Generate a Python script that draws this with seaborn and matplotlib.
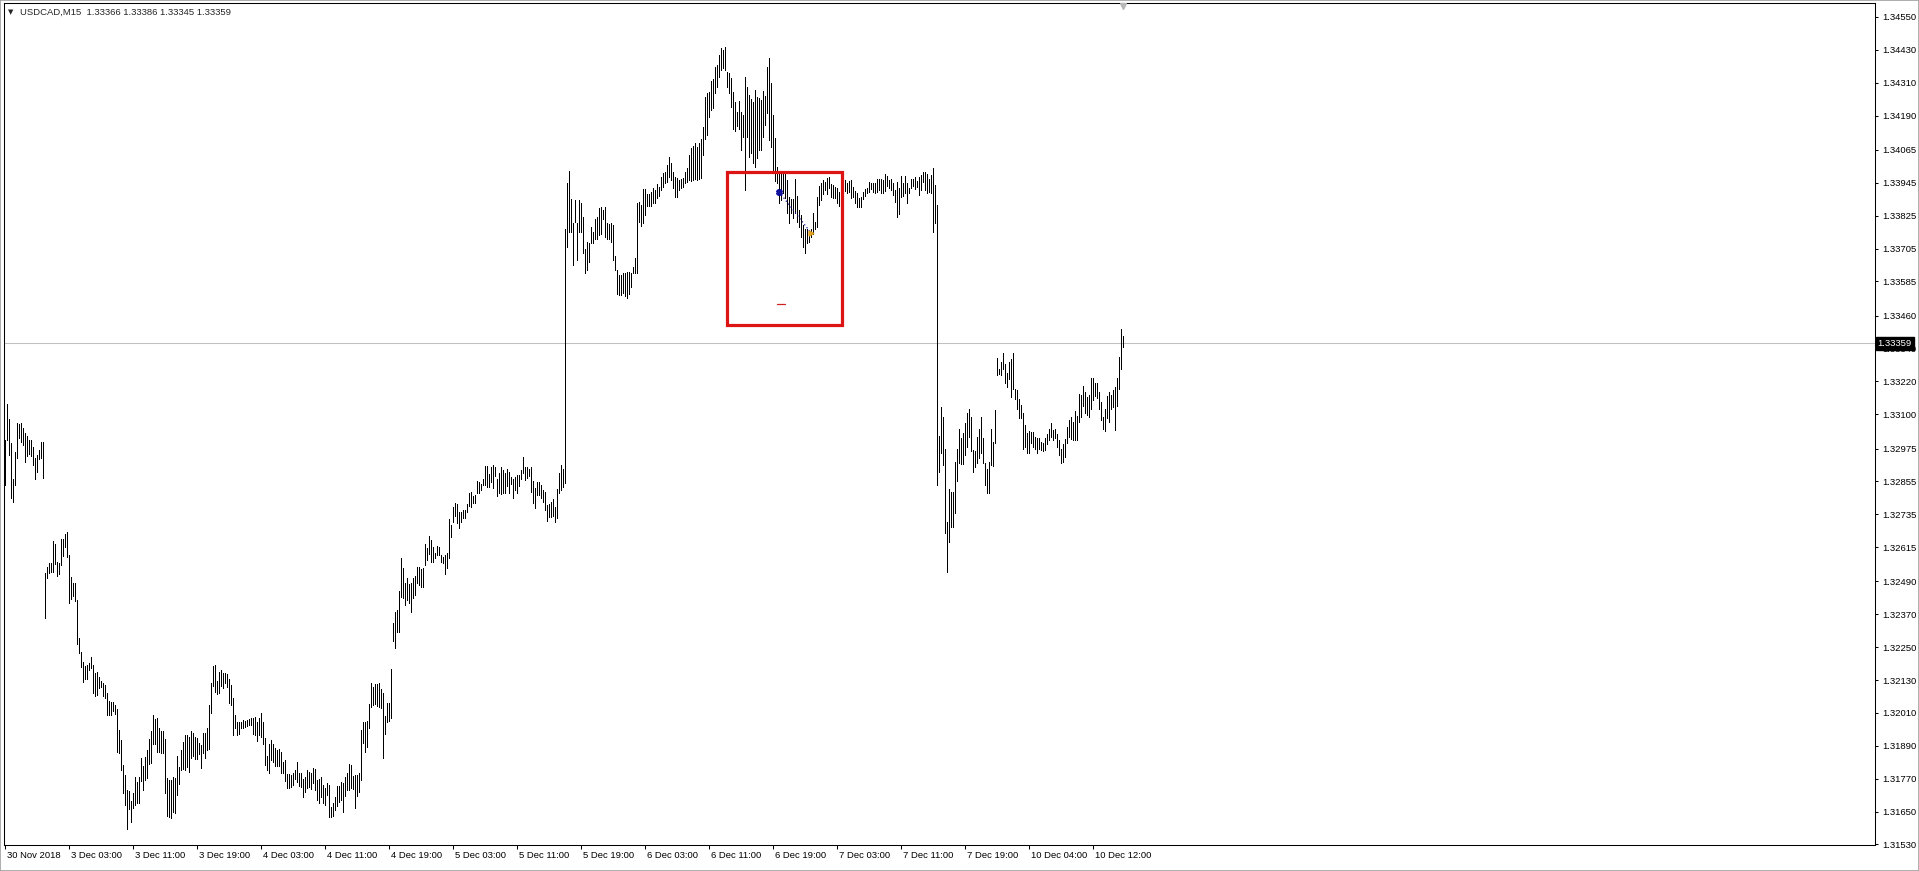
import numpy as np
import pandas as pd
import matplotlib
matplotlib.use("Agg")
import matplotlib.pyplot as plt
import matplotlib.transforms as mtransforms
from matplotlib.patches import Rectangle
import seaborn as sns


# -------------------------------
# Data: USDCAD M15 bars, high / low in points above 1.30000
# -------------------------------

BASE = 1.30000

nov30_high = [3006, 3138, 3082, 2994, 2863, 2963, 3067, 3064, 3067, 3049,
              3033, 3019, 3006, 3006, 2980, 2940, 2952, 2970, 2999, 2999]
nov30_low = [2842, 3006, 2952, 2793, 2781, 2842, 2940, 3013, 3000, 2988,
             2924, 2946, 2955, 2946, 2915, 2863, 2891, 2936, 2940, 2867]

dec3_high = [2520, 2544, 2559, 2556, 2639, 2627, 2562, 2559, 2644, 2644,
             2663, 2669, 2587, 2505, 2486, 2486, 2422, 2282, 2232, 2197,
             2181, 2185, 2193, 2215, 2185, 2155, 2161, 2142, 2128, 2120,
             2112, 2082, 2055, 2051, 2051, 2039, 2023, 1948, 1911, 1820,
             1783, 1729, 1726, 1690, 1719, 1775, 1759, 1775, 1844, 1816,
             1848, 1875, 1914, 1945, 2002, 1987, 1990, 1954, 1945, 1945,
             1914, 1771, 1767, 1765, 1775, 1771, 1853, 1811, 1875, 1905,
             1929, 1929, 1923, 1945, 1936, 1921, 1917, 1901, 1893, 1936,
             1938, 1954, 2039, 2118, 2181, 2185, 2128, 2161, 2167, 2155,
             2157, 2152, 2133, 2112, 2063, 2002]
dec3_low = [2358, 2501, 2522, 2526, 2526, 2554, 2511, 2517, 2550, 2584,
            2617, 2578, 2410, 2425, 2435, 2420, 2262, 2230, 2176, 2124,
            2133, 2133, 2167, 2173, 2082, 2072, 2075, 2100, 2103, 2072,
            2063, 2002, 2002, 2002, 2018, 2006, 1869, 1865, 1802, 1719,
            1674, 1585, 1658, 1613, 1662, 1674, 1682, 1680, 1763, 1729,
            1765, 1771, 1824, 1828, 1897, 1897, 1869, 1869, 1865, 1865,
            1716, 1634, 1629, 1625, 1650, 1646, 1710, 1751, 1802, 1804,
            1802, 1811, 1796, 1844, 1853, 1841, 1841, 1860, 1808, 1865,
            1844, 1875, 1877, 2011, 2108, 2088, 2079, 2084, 2108, 2100,
            2120, 2103, 2047, 2039, 1929, 1954]

dec4_high = [1978, 1978, 1978, 1984, 1982, 1984, 1987, 1990, 1990, 1994,
             1978, 1990, 2009, 1978, 1917, 1853, 1897, 1911, 1897, 1881,
             1875, 1877, 1869, 1832, 1838, 1787, 1787, 1783, 1790, 1802,
             1832, 1792, 1792, 1768, 1777, 1802, 1796, 1792, 1808, 1804,
             1765, 1768, 1777, 1747, 1735, 1755, 1747, 1668, 1682, 1704,
             1743, 1743, 1759, 1753, 1777, 1790, 1822, 1820, 1780, 1783,
             1783, 1790, 1948, 1978, 1978, 1982, 2043, 2120, 2106, 2116,
             2116, 2118, 2096, 2082, 1999, 2045, 2048, 2169, 2340, 2380,
             2386, 2456, 2574, 2538, 2483, 2501, 2481, 2486, 2501, 2508,
             2542, 2544, 2534, 2538, 2627, 2611]
dec4_low = [1929, 1933, 1954, 1954, 1960, 1962, 1966, 1966, 1933, 1929,
            1909, 1929, 1923, 1897, 1820, 1802, 1792, 1838, 1832, 1816,
            1816, 1816, 1792, 1792, 1763, 1735, 1735, 1741, 1747, 1768,
            1759, 1743, 1738, 1704, 1723, 1735, 1741, 1731, 1753, 1729,
            1692, 1682, 1704, 1680, 1674, 1710, 1631, 1629, 1634, 1656,
            1670, 1686, 1692, 1650, 1707, 1729, 1729, 1735, 1731, 1662,
            1707, 1723, 1765, 1899, 1869, 1887, 1954, 2033, 2039, 2043,
            2035, 2030, 2027, 1844, 1933, 1978, 1982, 1990, 2274, 2246,
            2307, 2307, 2434, 2428, 2404, 2422, 2410, 2380, 2428, 2441,
            2483, 2477, 2469, 2471, 2550, 2568]

dec5_high = [2656, 2641, 2617, 2593, 2619, 2617, 2587, 2578, 2587, 2595,
             2717, 2696, 2761, 2775, 2773, 2745, 2745, 2749, 2751, 2773,
             2814, 2818, 2800, 2806, 2858, 2854, 2846, 2863, 2912, 2912,
             2882, 2909, 2915, 2907, 2863, 2885, 2907, 2897, 2885, 2899,
             2891, 2870, 2863, 2870, 2879, 2879, 2895, 2943, 2909, 2907,
             2899, 2907, 2858, 2830, 2851, 2851, 2842, 2824, 2818, 2769,
             2773, 2781, 2790, 2763, 2826, 2885, 2914, 2902, 3778, 3943,
             3988, 3884, 3799, 3882, 3797, 3882, 3870, 3821, 3702, 3730,
             3724, 3782, 3766, 3811, 3821, 3851, 3858, 3845, 3858, 3797,
             3794, 3797, 3791, 3677, 3626, 3608]
dec5_low = [2590, 2562, 2562, 2574, 2587, 2587, 2562, 2556, 2517, 2538,
            2574, 2651, 2708, 2727, 2702, 2684, 2708, 2720, 2720, 2745,
            2766, 2761, 2778, 2778, 2814, 2812, 2822, 2842, 2842, 2836,
            2834, 2854, 2830, 2873, 2802, 2812, 2809, 2814, 2812, 2839,
            2812, 2846, 2794, 2824, 2814, 2839, 2863, 2885, 2860, 2867,
            2873, 2818, 2775, 2757, 2806, 2806, 2794, 2781, 2751, 2712,
            2724, 2724, 2729, 2708, 2720, 2812, 2823, 2835, 2849, 3711,
            3766, 3766, 3645, 3803, 3663, 3766, 3766, 3687, 3614, 3626,
            3657, 3724, 3724, 3738, 3738, 3754, 3758, 3811, 3748, 3738,
            3738, 3730, 3663, 3626, 3539, 3535]

dec6_high = [3608, 3614, 3614, 3620, 3620, 3617, 3636, 3669, 3872, 3876,
             3864, 3921, 3921, 3904, 3904, 3912, 3924, 3918, 3940, 3930,
             3967, 3979, 3985, 4010, 4038, 4016, 3985, 3967, 3961, 3955,
             3957, 3961, 3985, 3997, 4046, 4071, 4079, 4089, 4074, 4091,
             4103, 4147, 4257, 4271, 4277, 4318, 4322, 4369, 4375, 4411,
             4436, 4429, 4439, 4350, 4344, 4326, 4277, 4241, 4204, 4245,
             4204, 4192, 4332, 4296, 4265, 4249, 4241, 4283, 4257, 4253,
             4247, 4281, 4262, 4366, 4399, 4308, 4192, 4107, 4001, 3985,
             3982, 3985, 3982, 3955, 3894, 3884, 3884, 3957, 3896, 3845,
             3827, 3791, 3778, 3775, 3766, 3775]
dec6_low = [3535, 3541, 3531, 3526, 3539, 3565, 3614, 3614, 3614, 3803,
            3787, 3799, 3827, 3860, 3860, 3860, 3870, 3872, 3888, 3896,
            3918, 3930, 3945, 3949, 3967, 3955, 3924, 3894, 3892, 3918,
            3924, 3930, 3943, 3949, 3955, 3953, 3955, 3957, 3955, 3957,
            3961, 4046, 4103, 4119, 4184, 4210, 4217, 4271, 4293, 4332,
            4356, 4363, 4356, 4296, 4271, 4223, 4140, 4135, 4152, 4140,
            4064, 4113, 3918, 4113, 4038, 4055, 4016, 4001, 4034, 4064,
            4064, 4113, 4156, 4198, 4101, 4077, 3985, 3953, 3943, 3870,
            3882, 3906, 3888, 3833, 3797, 3836, 3815, 3833, 3803, 3785,
            3746, 3712, 3687, 3724, 3730, 3748]

dec7_high = [3833, 3803, 3894, 3933, 3945, 3955, 3949, 3961, 3967, 3940,
             3937, 3930, 3924, 3912, 3955, 3953, 3955, 3945, 3953, 3955,
             3928, 3916, 3906, 3888, 3892, 3912, 3921, 3925, 3949, 3945,
             3945, 3943, 3957, 3957, 3957, 3955, 3977, 3970, 3955, 3957,
             3945, 3918, 3949, 3925, 3970, 3943, 3970, 3943, 3925, 3957,
             3957, 3965, 3953, 3965, 3973, 3985, 3985, 3977, 3957, 3973,
             3998, 3937, 3864, 3020, 3127, 3091, 2975, 2708, 2829, 2817,
             2817, 2927, 2972, 3045, 3012, 3033, 3067, 3103, 3121, 3091,
             2969, 2967, 3018, 3045, 3091, 3015, 2923, 2902, 2927, 3045,
             3000, 3115]
dec7_low = [3758, 3778, 3785, 3864, 3882, 3904, 3918, 3904, 3924, 3894,
            3888, 3888, 3870, 3860, 3912, 3916, 3916, 3906, 3912, 3888,
            3892, 3872, 3855, 3855, 3855, 3884, 3897, 3906, 3912, 3921,
            3912, 3909, 3912, 3918, 3909, 3906, 3916, 3933, 3925, 3918,
            3900, 3876, 3819, 3831, 3894, 3897, 3906, 3872, 3906, 3925,
            3933, 3921, 3928, 3900, 3918, 3949, 3918, 3906, 3912, 3906,
            3766, 3799, 2841, 2890, 2957, 2914, 2667, 2525, 2635, 2687,
            2689, 2740, 2857, 2923, 2918, 2918, 2951, 2979, 3018, 2967,
            2890, 2906, 2923, 2942, 2957, 2921, 2841, 2811, 2811, 2914,
            2911, 2994]

dec10_high = [3304, 3267, 3292, 3322, 3283, 3249, 3292, 3300, 3325, 3194,
              3188, 3154, 3134, 3103, 3060, 3030, 3040, 3036, 3036, 3018,
              3015, 3015, 3000, 2996, 3012, 3028, 3048, 3067, 3042, 3048,
              3028, 3006, 2975, 2991, 3008, 3054, 3079, 3091, 3073, 3113,
              3093, 3174, 3170, 3203, 3182, 3164, 3170, 3231, 3231, 3215,
              3215, 3182, 3146, 3091, 3121, 3166, 3182, 3170, 3188, 3201,
              3231, 3310, 3411, 3386]
dec10_low = [3243, 3247, 3243, 3267, 3215, 3198, 3227, 3162, 3191, 3154,
             3121, 3088, 3085, 2975, 2979, 2959, 2959, 2996, 2979, 2972,
             2957, 2972, 2969, 2967, 2969, 2991, 3006, 3018, 3007, 3012,
             2979, 2951, 2921, 2927, 2945, 2994, 3018, 3008, 3006, 3006,
             3006, 3073, 3091, 3130, 3103, 3097, 3091, 3121, 3152, 3166,
             3158, 3118, 3079, 3048, 3040, 3085, 3073, 3118, 3127, 3042,
             3130, 3191, 3267, 3345]

last_price = 1.33359
title_text = "USDCAD,M15  1.33366 1.33386 1.33345 1.33359"

price_ticks = [1.34550, 1.34430, 1.34310, 1.34190, 1.34065, 1.33945, 1.33825,
               1.33705, 1.33585, 1.33460, 1.33340, 1.33220, 1.33100, 1.32975,
               1.32855, 1.32735, 1.32615, 1.32490, 1.32370, 1.32250, 1.32130,
               1.32010, 1.31890, 1.31770, 1.31650, 1.31530]

time_tick_bars = [0, 32, 64, 96, 128, 160, 192, 224, 256, 288, 320, 352,
                  384, 416, 448, 480, 512, 544]
time_tick_labels = ["30 Nov 2018", "3 Dec 03:00", "3 Dec 11:00", "3 Dec 19:00",
                    "4 Dec 03:00", "4 Dec 11:00", "4 Dec 19:00", "5 Dec 03:00",
                    "5 Dec 11:00", "5 Dec 19:00", "6 Dec 03:00", "6 Dec 11:00",
                    "6 Dec 19:00", "7 Dec 03:00", "7 Dec 11:00", "7 Dec 19:00",
                    "10 Dec 04:00", "10 Dec 12:00"]

# drawn objects on the chart (bar index / price)
box_bars = (361, 418.5)
box_prices = (1.33426, 1.33985)
trade_bars = [387, 403]
trade_prices = [1.33912, 1.33762]
dash_bars = [386, 390]
dash_price = 1.33503


highs = np.concatenate([nov30_high, dec3_high, dec4_high, dec5_high,
                        dec6_high, dec7_high, dec10_high])
lows = np.concatenate([nov30_low, dec3_low, dec4_low, dec5_low,
                       dec6_low, dec7_low, dec10_low])

df = pd.DataFrame({
    "bar": np.arange(len(highs)),
    "high": BASE + highs / 1e5,
    "low": BASE + lows / 1e5,
})


# -------------------------------
# Style
# -------------------------------

sns.set_theme(style="white")
plt.rcParams["font.family"] = ["Liberation Sans", "DejaVu Sans"]
plt.rcParams["font.size"] = 6.8

W, H = 1919, 871
fig = plt.figure(figsize=(W / 100, H / 100), dpi=100, facecolor="white")

ax_left, ax_right, ax_top, ax_bottom = 4, 1875, 3, 845
ax = fig.add_axes([ax_left / W, 1 - ax_bottom / H,
                   (ax_right - ax_left) / W, (ax_bottom - ax_top) / H])
ax.set_facecolor("white")


# -------------------------------
# Bars
# -------------------------------

ax.axhline(last_price, color="#c0c0c0", linewidth=0.75, zorder=1)

ax.vlines(df["bar"], df["low"], df["high"], colors="black",
          linewidth=0.45, antialiased=False, zorder=3)

# trade arrows
sns.lineplot(x=trade_bars, y=trade_prices, ax=ax, color="#1a1a9a",
             linestyle=(0, (1, 2)), linewidth=0.9, zorder=4)
ax.plot(trade_bars[0], trade_prices[0], marker="X", color="#1010a0",
        markersize=4, zorder=5)
ax.plot(trade_bars[1], trade_prices[1], marker=">", color="#e0a020",
        markersize=3.5, zorder=5)
ax.plot(dash_bars, [dash_price, dash_price], color="#d02020", linewidth=0.9,
        zorder=4)

ax.add_patch(Rectangle((box_bars[0], box_prices[0]),
                       box_bars[1] - box_bars[0],
                       box_prices[1] - box_prices[0],
                       fill=False, edgecolor="#dc1414", linewidth=2.3,
                       zorder=6))

# chart-shift marker
ax.plot(len(highs) - 1, 0.996, marker="v", color="#b8b8b8", markersize=5,
        transform=ax.get_xaxis_transform(), clip_on=False, zorder=6)


# -------------------------------
# Axes
# -------------------------------

ax.set_xlim(-0.5, (ax_right - 5) / 2)
ax.set_ylim(1.31528, 1.34601)

ax.yaxis.tick_right()
ax.set_yticks(price_ticks)
ax.set_yticklabels([f"{p:.5f}" for p in price_ticks])
ax.tick_params(axis="y", direction="out", length=2.5, width=0.75, pad=3,
               labelsize=6.8, colors="black", right=True, left=False)

ax.set_xticks(time_tick_bars)
ax.set_xticklabels(time_tick_labels)
ax.tick_params(axis="x", direction="out", length=3, width=0.75, pad=1.5,
               labelsize=6.8, colors="black", bottom=True)
offset = mtransforms.ScaledTranslation(2 / 100, 0, fig.dpi_scale_trans)
for lab in ax.get_xticklabels():
    lab.set_horizontalalignment("left")
    lab.set_transform(lab.get_transform() + offset)

for side in ["left", "right", "top", "bottom"]:
    ax.spines[side].set_color("black")
    ax.spines[side].set_linewidth(0.75)

ax.set_xlabel("")
ax.set_ylabel("")

# current price box on the price scale
ax.annotate(f"{last_price:.5f}", xy=(1.0, last_price),
            xycoords=("axes fraction", "data"),
            xytext=(2, 0), textcoords="offset points",
            ha="left", va="center", fontsize=6.8, color="white",
            bbox=dict(boxstyle="square,pad=0.2", facecolor="black",
                      edgecolor="black"),
            zorder=10, annotation_clip=False)

# title
fig.text(8 / W, 1 - 12 / H, "\u25bc", fontsize=5, va="center", ha="left",
         family=["DejaVu Sans"])
fig.text(20 / W, 1 - 12 / H, title_text, fontsize=6.8, va="center", ha="left")

# window border
fig.add_artist(Rectangle((0, 0), 1, 1, transform=fig.transFigure, fill=False,
                         edgecolor="#a0a0a0", linewidth=1.2))

fig.savefig("out.png", dpi=100, facecolor="white")
plt.close(fig)
